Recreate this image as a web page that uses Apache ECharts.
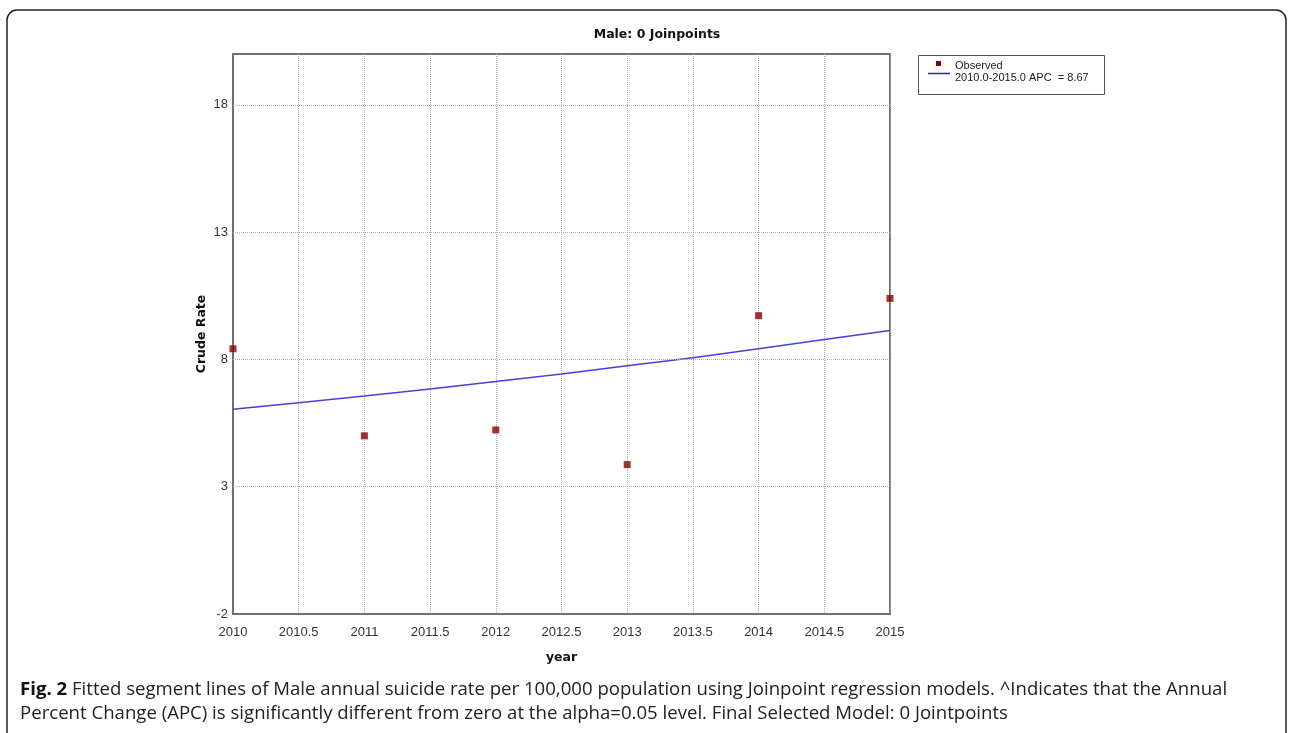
<!DOCTYPE html>
<html>
<head>
<meta charset="utf-8">
<script src="https://cdn.jsdelivr.net/npm/echarts@6/dist/echarts.min.js"></script>
<style>
html,body{margin:0;padding:0;background:#fff;}
#chart{width:1290px;height:733px;}
</style>
</head>
<body>
<div id="chart"></div>
<script>
// ---- data ----
var obsYears = [2010, 2011, 2012, 2013, 2014, 2015];
var obsRates = [8.42, 5.00, 5.23, 3.87, 9.72, 10.40];
var fitYears = [2010, 2010.5, 2011, 2011.5, 2012, 2012.5, 2013, 2013.5, 2014, 2014.5, 2015];
var fitRates = [6.04, 6.30, 6.56, 6.84, 7.13, 7.43, 7.75, 8.07, 8.42, 8.78, 9.14];
var yTickLabels = [-2, 3, 8, 13, 18];
var xTickLabels = [2010, 2010.5, 2011, 2011.5, 2012, 2012.5, 2013, 2013.5, 2014, 2014.5, 2015];
var titleText = 'Male: 0 Joinpoints';
var legendObserved = 'Observed';
var legendFit = '2010.0-2015.0 APC  = 8.67';
var captionBold = 'Fig. 2';
var captionLine1 = ' Fitted segment lines of Male annual suicide rate per 100,000 population using Joinpoint regression models. ^Indicates that the Annual';
var captionLine2 = 'Percent Change (APC) is significantly different from zero at the alpha=0.05 level. Final Selected Model: 0 Jointpoints';

var chart = echarts.init(document.getElementById('chart'), null, {renderer: 'canvas'});

var gridLineStyle = {color: '#b0b0b0', type: 'dotted', width: 1};

var option = {
  animation: false,
  backgroundColor: '#fff',
  title: {
    text: titleText,
    left: 652, top: 23, textAlign: 'center',
    textStyle: {fontFamily: 'DejaVu Sans', fontWeight: 'bold', fontSize: 12.5, color: '#111'}
  },
  grid: {
    left: 233, right: 400, top: 54, bottom: 119,
    show: true, borderColor: '#707070', borderWidth: 2, backgroundColor: 'transparent',
    containLabel: false
  },
  xAxis: {
    type: 'value', min: 2010, max: 2015, interval: 0.5,
    name: 'year', nameLocation: 'middle', nameGap: 37,
    nameTextStyle: {fontFamily: 'DejaVu Sans', fontWeight: 'bold', fontSize: 12.5, color: '#111'},
    axisLine: {show: true, onZero: false, lineStyle: {color: '#707070', width: 2}},
    axisTick: {show: false},
    axisLabel: {
      margin: 12, fontFamily: 'Liberation Sans', fontSize: 13, color: '#333',
      formatter: function (v) { return xTickLabels.indexOf(v) >= 0 ? String(v) : ''; }
    },
    splitLine: {show: true, lineStyle: gridLineStyle}
  },
  yAxis: {
    type: 'value', min: -2, max: 20, interval: 1,
    name: 'Crude Rate', nameLocation: 'middle', nameGap: 25, nameRotate: 90,
    nameMoveOverlap: false,
    nameTextStyle: {fontFamily: 'DejaVu Sans', fontWeight: 'bold', fontSize: 12.5, color: '#111'},
    axisLine: {show: true, onZero: false, lineStyle: {color: '#707070', width: 2}},
    axisTick: {show: false},
    axisLabel: {
      margin: 5, fontFamily: 'Liberation Sans', fontSize: 13, color: '#333',
      formatter: function (v) { return yTickLabels.indexOf(v) >= 0 ? String(v) : ''; }
    },
    splitLine: {show: false}
  },
  series: [
    {
      type: 'line',
      name: legendFit,
      data: fitYears.map(function (x, i) { return [x, fitRates[i]]; }),
      showSymbol: false,
      smooth: false,
      lineStyle: {color: '#4343d8', width: 1.5},
      z: 3,
      markLine: {
        silent: true, symbol: 'none', animation: false,
        label: {show: false},
        lineStyle: gridLineStyle,
        data: yTickLabels.filter(function (v) { return v > -2; }).map(function (v) { return {yAxis: v}; })
      }
    },
    {
      type: 'scatter',
      name: legendObserved,
      data: obsYears.map(function (x, i) { return [x, obsRates[i]]; }),
      symbol: 'rect', symbolSize: 7,
      itemStyle: {color: '#8a0000'},
      z: 4
    }
  ],
  graphic: [
    {
      type: 'rect', silent: true,
      shape: {x: 7, y: 10, width: 1279, height: 760, r: 10},
      style: {fill: 'none', stroke: '#222', lineWidth: 1.5}
    },
    {
      type: 'group', left: 918, top: 55,
      children: [
        {type: 'rect', shape: {x: 0.5, y: 0.5, width: 186, height: 39}, style: {fill: '#fff', stroke: '#555', lineWidth: 1}},
        {type: 'rect', shape: {x: 18, y: 6, width: 5, height: 5}, style: {fill: '#8a0000'}},
        {type: 'line', shape: {x1: 10, y1: 18.5, x2: 32, y2: 18.5}, style: {stroke: '#2525b0', lineWidth: 1.5}},
        {type: 'text', x: 37, y: 11, style: {text: legendObserved, fontFamily: 'Liberation Sans', fontSize: 11, fill: '#222', verticalAlign: 'middle'}},
        {type: 'text', x: 37, y: 23, style: {text: legendFit, fontFamily: 'Liberation Sans', fontSize: 11, fill: '#222', verticalAlign: 'middle'}}
      ]
    },
    {
      type: 'text', left: 20, top: 680,
      style: {
        text: '{b|' + captionBold + '}{r|' + captionLine1 + '}',
        rich: {
          b: {fontFamily: 'Open Sans', fontWeight: 'bold', fontSize: 18.6, fill: '#111'},
          r: {fontFamily: 'Open Sans', fontSize: 18.6, fill: '#222'}
        }
      }
    },
    {
      type: 'text', left: 20, top: 704,
      style: {text: captionLine2, fontFamily: 'Open Sans', fontSize: 18.6, fill: '#222'}
    }
  ]
};
chart.setOption(option);
</script>
</body>
</html>
